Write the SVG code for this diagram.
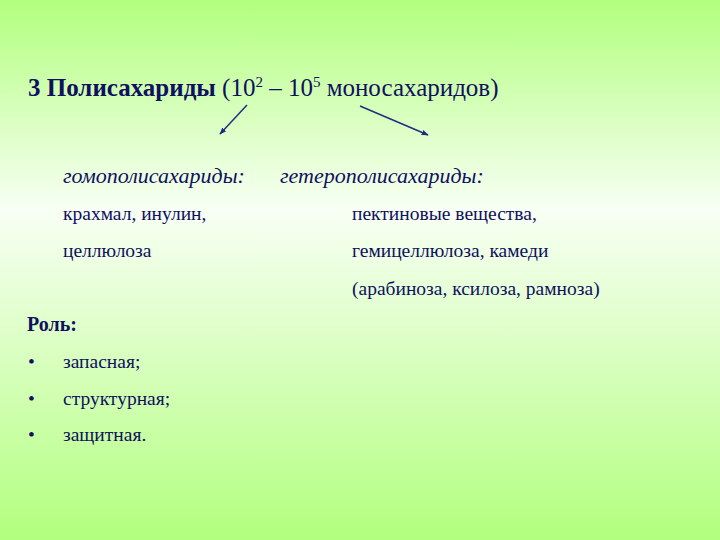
<svg xmlns="http://www.w3.org/2000/svg" width="720" height="540" viewBox="0 0 720 540">
<defs>
<linearGradient id="bg" x1="0" y1="0" x2="0" y2="1">
<stop offset="0" stop-color="#b2ff7e"/>
<stop offset="0.39" stop-color="#f8fff4"/>
<stop offset="1" stop-color="#b2ff7e"/>
</linearGradient>
<marker id="ah" viewBox="0 0 10 10" refX="9" refY="5" markerWidth="7" markerHeight="7" orient="auto" markerUnits="userSpaceOnUse">
<path d="M0,1 L10,5 L0,9 Z" fill="#1f2f80"/>
</marker>
<style>
text{fill:#101060;}
.t{font-size:25px;}
.b{font-weight:bold;}
.i{font-style:italic;font-size:22px;}
.s{font-size:19.5px;}
.r{font-size:20px;font-weight:bold;}
</style>
</defs>
<rect width="720" height="540" fill="url(#bg)"/>
<g font-family="Liberation Serif, DejaVu Serif, serif">
<g id="title">
<text class="t" x="28" y="96"><tspan class="b">3  Полисахариды</tspan> (10<tspan font-size="15" dy="-9">2</tspan><tspan dy="9"> – 10</tspan><tspan font-size="15" dy="-9">5</tspan><tspan dy="9"> моносахаридов)</tspan></text>
</g>
<g id="connectors" stroke="#1f2f80" stroke-width="1.5" fill="none">
<line x1="247" y1="105" x2="220" y2="134" marker-end="url(#ah)"/>
<line x1="360" y1="106" x2="428" y2="135" marker-end="url(#ah)"/>
</g>
<g id="homo">
<text class="i" x="63" y="183">гомополисахариды:</text>
<text class="s" x="63" y="220">крахмал, инулин,</text>
<text class="s" x="63" y="257">целлюлоза</text>
</g>
<g id="hetero">
<text class="i" x="280" y="183">гетерополисахариды:</text>
<text class="s" x="352" y="220">пектиновые вещества,</text>
<text class="s" x="352" y="257">гемицеллюлоза, камеди</text>
<text class="s" x="352" y="295">(арабиноза, ксилоза, рамноза)</text>
</g>
<g id="role">
<text class="r" x="27" y="331">Роль:</text>
<text class="s" x="28" y="368">•</text><text class="s" x="63" y="368">запасная;</text>
<text class="s" x="28" y="405">•</text><text class="s" x="63" y="405">структурная;</text>
<text class="s" x="28" y="441">•</text><text class="s" x="63" y="441">защитная.</text>
</g>
</g>
</svg>
